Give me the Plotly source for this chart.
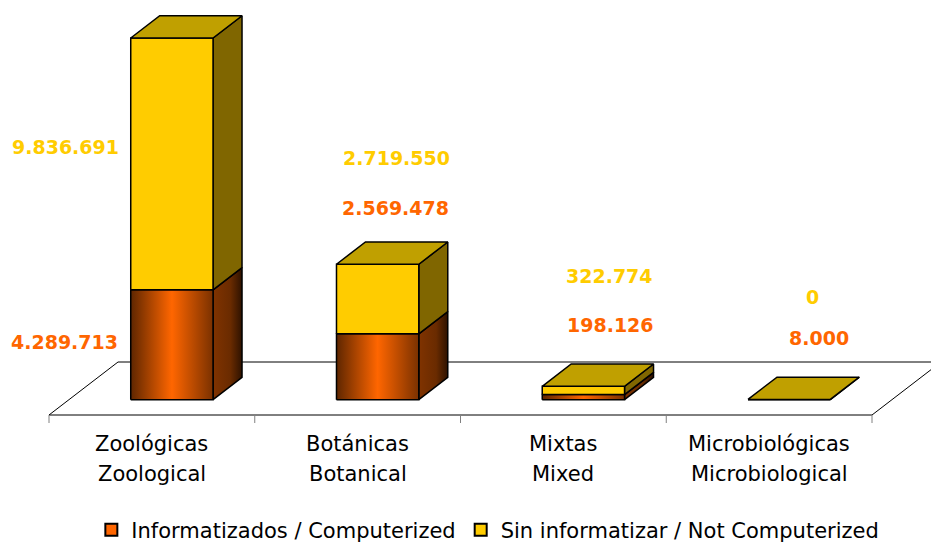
import plotly.graph_objects as go

# ---------------- data ----------------
categories_es = ["Zoológicas", "Botánicas", "Mixtas", "Microbiológicas"]
categories_en = ["Zoological", "Botanical", "Mixed", "Microbiological"]
computerized = [4289713, 2569478, 198126, 8000]
not_computerized = [9836691, 2719550, 322774, 0]
series_names = ["Informatizados / Computerized", "Sin informatizar / Not Computerized"]

# ---------------- layout / style constants ----------------
W, H = 931, 545
PX_PER_CAT = 205.75          # pixels per category slot
PX_PER_UNIT = 25.6 / 1e6     # pixels per collection item
X_PX = 1 / PX_PER_CAT
Y_PX = 1 / PX_PER_UNIT
X0_PX, FLOOR_PX = 49, 415    # left edge of floor, floor front line (pixels)

DX = 69 * X_PX               # floor depth (x)
DY = 53 * Y_PX               # floor depth (y)
BW = 0.40                    # bar width in category units
D0, D1 = 0.29, 0.71          # bar front / back depth (fraction of floor)
TICK = 8 * Y_PX

ORANGE = "#FF6600"
YELLOW = "#FFCC00"
YELLOW_SIDE = "#806600"
YELLOW_TOP = "#C0A000"
ORANGE_FRONT_SCALE = [[0, "#5E2600"], [0.5, "#FF6600"], [1, "#7A3100"]]
ORANGE_SIDE_SCALE = [[0, "#803300"], [0.6, "#6A2B00"], [1, "#2E1200"]]
FONT = "DejaVu Sans"

# label positions (data units): x, y
lab_comp_pos = [(0.073, 2.85e6), (1.682, 8.09e6), (2.727, 3.52e6), (3.742, 3.01e6)]
lab_notc_pos = [(0.078, 10.47e6), (1.687, 10.04e6), (2.722, 5.43e6), (3.713, 4.61e6)]

fig = go.Figure()


def poly(xs, ys, fill=None, grad=None, lw=1.5):
    kw = dict(x=xs + [xs[0]], y=ys + [ys[0]], mode="lines", fill="toself",
              line=dict(color="black", width=lw), hoverinfo="skip", showlegend=False)
    if grad is not None:
        kw["fillgradient"] = dict(type="horizontal", colorscale=grad)
        kw["fillcolor"] = ORANGE
    else:
        kw["fillcolor"] = fill
    fig.add_trace(go.Scatter(**kw))


# floor
n = len(categories_es)
fig.add_trace(go.Scatter(
    x=[0, n, n + DX, DX, 0], y=[0, 0, DY, DY, 0], mode="lines",
    line=dict(color="black", width=1), hoverinfo="skip", showlegend=False))
# tick marks at category boundaries
tx, ty = [], []
for i in range(n + 1):
    tx += [i, i, None]
    ty += [0, -TICK, None]
fig.add_trace(go.Scatter(x=tx, y=ty, mode="lines", line=dict(color="#808080", width=1),
                         hoverinfo="skip", showlegend=False))

dd = D1 - D0
for i in range(n):
    xc = i + 0.5
    xl = xc - BW / 2 + D0 * DX
    xr = xl + BW
    base = D0 * DY
    segs = [(0, computerized[i], "o"), (computerized[i], computerized[i] + not_computerized[i], "y")]
    for v0, v1, kind in segs:
        y0, y1 = base + v0, base + v1
        if v1 - v0 <= 0:
            continue
        sx = [xr, xr + dd * DX, xr + dd * DX, xr]
        sy = [y0, y0 + dd * DY, y1 + dd * DY, y1]
        if kind == "o":
            poly(sx, sy, grad=ORANGE_SIDE_SCALE)
            poly([xl, xr, xr, xl], [y0, y0, y1, y1], grad=ORANGE_FRONT_SCALE)
        else:
            poly(sx, sy, fill=YELLOW_SIDE)
            poly([xl, xr, xr, xl], [y0, y0, y1, y1], fill=YELLOW)
    ytop = base + computerized[i] + not_computerized[i]
    poly([xl, xr, xr + dd * DX, xl + dd * DX], [ytop, ytop, ytop + dd * DY, ytop + dd * DY],
         fill=YELLOW_TOP)

# legend entries
for name, col in zip(series_names, [ORANGE, YELLOW]):
    fig.add_trace(go.Scatter(x=[None], y=[None], mode="markers", name=name,
                             marker=dict(symbol="square", size=12, color=col,
                                         line=dict(color="black", width=1))))


def fmt(v):
    return f"{v:,}".replace(",", ".")


annotations = []
for i in range(n):
    annotations.append(dict(x=lab_comp_pos[i][0], y=lab_comp_pos[i][1], text=fmt(computerized[i]),
                            showarrow=False, font=dict(family=FONT, size=19, color=ORANGE, weight="bold")))
    annotations.append(dict(x=lab_notc_pos[i][0], y=lab_notc_pos[i][1], text=fmt(not_computerized[i]),
                            showarrow=False, font=dict(family=FONT, size=19, color=YELLOW, weight="bold")))
    annotations.append(dict(x=i + 0.5, y=-29 * Y_PX, text=categories_es[i], showarrow=False,
                            font=dict(family=FONT, size=21, color="black")))
    annotations.append(dict(x=i + 0.5, y=-59 * Y_PX, text=categories_en[i], showarrow=False,
                            font=dict(family=FONT, size=21, color="black")))

fig.update_layout(
    width=W, height=H, autosize=False,
    margin=dict(l=0, r=0, t=0, b=0, autoexpand=False),
    paper_bgcolor="white", plot_bgcolor="white",
    xaxis=dict(visible=False, range=[-X0_PX * X_PX, (W - X0_PX) * X_PX], fixedrange=True),
    yaxis=dict(visible=False, range=[-(H - FLOOR_PX) * Y_PX, FLOOR_PX * Y_PX], fixedrange=True),
    annotations=annotations,
    showlegend=True,
    legend=dict(orientation="h", x=0.524, xanchor="center", y=(H - 530) / H, yanchor="middle",
                font=dict(family=FONT, size=21, color="black"), bgcolor="rgba(0,0,0,0)",
                traceorder="normal", itemsizing="constant", tracegroupgap=0),
    font=dict(family=FONT),
)

fig.write_html("out.html", config={"displayModeBar": False},
               post_script="document.body.style.margin='0px';")
